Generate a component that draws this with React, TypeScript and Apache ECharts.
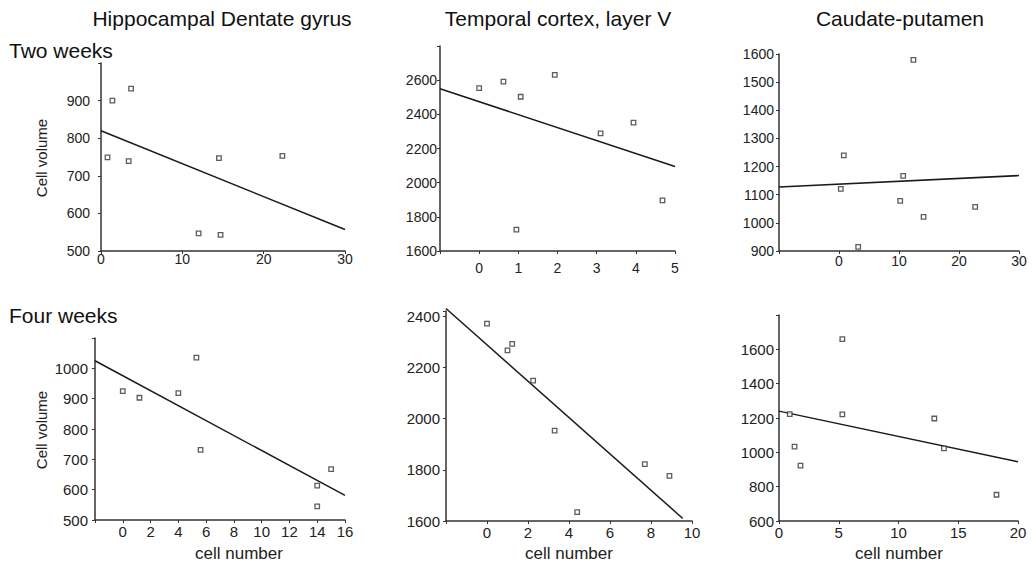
import React, { useEffect, useRef } from "react";
import * as echarts from "echarts";

// ---- Data ----
const columnTitles = ["Hippocampal Dentate gyrus", "Temporal cortex, layer V", "Caudate-putamen"];
const rowTitles = ["Two weeks", "Four weeks"];

const hipp2X = [0.8, 1.4, 3.7, 3.4, 14.5, 22.3, 12.0, 14.7];
const hipp2Y = [749, 900, 932, 739, 747, 753, 547, 543];
const hipp2Trend = [[0, 820], [30, 557]];

const temp2X = [0.0, 0.62, 1.06, 1.93, 3.1, 3.94, 4.68, 0.95];
const temp2Y = [2553, 2592, 2503, 2631, 2289, 2351, 1896, 1725];
const temp2Trend = [[-1, 2550], [5, 2095]];

const caud2X = [0.8, 0.3, 12.4, 10.7, 10.2, 14.1, 22.7, 3.2];
const caud2Y = [1240, 1121, 1579, 1167, 1078, 1021, 1057, 915];
const caud2Trend = [[-10, 1127], [30, 1168]];

const hipp4X = [0.0, 1.2, 4.0, 5.3, 5.6, 14.0, 15.0, 14.0];
const hipp4Y = [925, 903, 918, 1035, 731, 613, 668, 545];
const hipp4Trend = [[-2, 1025], [16, 581]];

const temp4X = [0.0, 1.0, 1.23, 2.25, 3.3, 4.4, 7.7, 8.9];
const temp4Y = [2371, 2266, 2292, 2148, 1953, 1635, 1822, 1776];
const temp4Trend = [[-2, 2430], [9.55, 1610]];

const caud4X = [0.9, 1.3, 1.8, 5.3, 5.3, 13.0, 13.8, 18.2];
const caud4Y = [1222, 1033, 922, 1660, 1221, 1197, 1023, 753];
const caud4Trend = [[0, 1240], [20, 945]];

// axis ranges: x [min, max, interval]; y [min, max, interval, last labelled value]
const xRanges = [[0, 30, 10], [-1, 5, 1], [-10, 30, 10], [-2, 16, 2], [-2, 10, 2], [0, 20, 5]];
const yRanges = [[500, 1000, 100, 900], [1600, 2800, 200, 2600], [900, 1600, 100, 1600], [500, 1100, 100, 1000], [1600, 2420, 200, 2400], [600, 1800, 200, 1600]];

const FONT = "'Liberation Sans', Arial, Helvetica, sans-serif";
const TXT = "#222";

export default function App() {
  const ref = useRef<HTMLDivElement>(null);
  useEffect(() => {
    if (!ref.current) return;
    const chart = echarts.init(ref.current, null, { renderer: "svg" });

    const grids = [
      { left: 101, top: 63, width: 244, height: 188 },
      { left: 440, top: 46, width: 235, height: 205 },
      { left: 779, top: 54, width: 240, height: 197 },
      { left: 95, top: 338, width: 250, height: 182 },
      { left: 446, top: 311, width: 246, height: 210 },
      { left: 779, top: 315, width: 239, height: 206 },
    ];
    const xMargins = [1, 10, 3, 4, 4, 4];
    const yMargins = [11, 3, 5, 7, 6, 5];
    const fontSizes = [14, 14, 14, 15, 15, 15];

    const scatterData = [
      [hipp2X, hipp2Y], [temp2X, temp2Y], [caud2X, caud2Y],
      [hipp4X, hipp4Y], [temp4X, temp4Y], [caud4X, caud4Y],
    ];
    const trends = [hipp2Trend, temp2Trend, caud2Trend, hipp4Trend, temp4Trend, caud4Trend];

    const axisLine = { show: true, onZero: false, lineStyle: { color: "#333", width: 1.5 } };
    const axisTick = { show: true, length: 3, lineStyle: { color: "#333", width: 1 } };

    const xAxis = xRanges.map((r, i) => ({
      type: "value",
      gridIndex: i,
      min: r[0],
      max: r[1],
      interval: r[2],
      axisLine,
      axisTick,
      splitLine: { show: false },
      axisLabel: {
        margin: xMargins[i],
        fontSize: fontSizes[i],
        color: TXT,
        fontFamily: FONT,
        formatter: (v: number) => (v < 0 ? "" : String(v)),
      },
    }));
    const yAxis = yRanges.map((r, i) => ({
      type: "value",
      gridIndex: i,
      min: r[0],
      max: r[1],
      interval: r[2],
      axisLine,
      axisTick,
      splitLine: { show: false },
      axisLabel: {
        margin: yMargins[i],
        fontSize: fontSizes[i],
        color: TXT,
        fontFamily: FONT,
        formatter: (v: number) => (v > r[3] || (v - r[0]) % r[2] !== 0 ? "" : String(v)),
      },
    }));

    const series: any[] = [];
    scatterData.forEach((d, i) => {
      series.push({
        type: "scatter",
        xAxisIndex: i,
        yAxisIndex: i,
        symbol: "rect",
        symbolSize: 4.5,
        itemStyle: { color: "#fff", borderColor: "#333", borderWidth: 1.3 },
        data: d[0].map((x, k) => [x, d[1][k]]),
        z: 3,
      });
      series.push({
        type: "line",
        xAxisIndex: i,
        yAxisIndex: i,
        symbol: "none",
        clip: false,
        lineStyle: { color: "#1a1a1a", width: 1.5 },
        data: trends[i],
        z: 2,
      });
    });

    const titleStyle = { fill: "#111", fontSize: 21, fontFamily: FONT };
    const nameStyle = { fill: TXT, fontFamily: FONT, align: "center", verticalAlign: "middle" };
    const graphic: any[] = [
      { type: "text", x: 222, y: 18, style: { ...titleStyle, text: columnTitles[0], align: "center", verticalAlign: "middle" } },
      { type: "text", x: 558, y: 18, style: { ...titleStyle, text: columnTitles[1], align: "center", verticalAlign: "middle" } },
      { type: "text", x: 900, y: 18, style: { ...titleStyle, text: columnTitles[2], align: "center", verticalAlign: "middle" } },
      { type: "text", x: 9, y: 50, style: { ...titleStyle, text: rowTitles[0], verticalAlign: "middle" } },
      { type: "text", x: 9, y: 315, style: { ...titleStyle, text: rowTitles[1], verticalAlign: "middle" } },
      { type: "text", x: 41, y: 158, rotation: Math.PI / 2, style: { ...nameStyle, fontSize: 15, text: "Cell volume" } },
      { type: "text", x: 41, y: 430, rotation: Math.PI / 2, style: { ...nameStyle, fontSize: 15, text: "Cell volume" } },
      { type: "text", x: 239, y: 553, style: { ...nameStyle, fontSize: 17, text: "cell number" } },
      { type: "text", x: 569, y: 553, style: { ...nameStyle, fontSize: 17, text: "cell number" } },
      { type: "text", x: 899, y: 553, style: { ...nameStyle, fontSize: 17, text: "cell number" } },
    ];

    chart.setOption({
      animation: false,
      backgroundColor: "#fff",
      textStyle: { fontFamily: FONT },
      grid: grids,
      xAxis,
      yAxis,
      series,
      graphic,
    });
    return () => chart.dispose();
  }, []);

  return (
    <div
      ref={ref}
      style={{ position: "fixed", left: 0, top: 0, width: 1033, height: 565, background: "#fff" }}
    />
  );
}
